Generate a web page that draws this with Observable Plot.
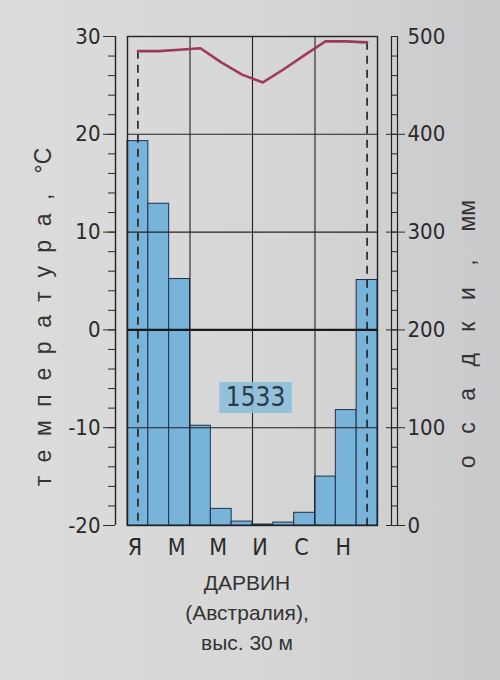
<!DOCTYPE html>
<html><head><meta charset="utf-8">
<script src="https://cdn.jsdelivr.net/npm/d3@7"></script>
<script src="https://cdn.jsdelivr.net/npm/@observablehq/plot@0.6"></script>
<style>
html,body{margin:0;padding:0;}
body{width:500px;height:680px;overflow:hidden;position:relative;
  background:linear-gradient(to right,#dcdcdc 0%,#d6d6d7 55%,#cacacc 100%);}
#chart{position:absolute;left:0;top:0;}
#caption{position:absolute;left:0;top:568px;width:494px;text-align:center;
  font-family:"Liberation Sans",Arial,sans-serif;font-size:21px;line-height:30px;color:#333;}
.ytitle{position:absolute;white-space:nowrap;font-family:"Liberation Sans",Arial,sans-serif;
  font-size:23px;color:#333;transform:translate(-50%,-50%) rotate(-90deg);line-height:1;}
</style></head><body>
<div id="chart"></div>
<div class="ytitle" id="tl" style="left:43px;top:317px;"><span style="letter-spacing:13.6px">температура,</span> °С</div>
<div class="ytitle" id="tr" style="left:467px;top:334px;"><span style="letter-spacing:21.5px">осадки,</span> мм</div>
<div id="caption"><div>ДАРВИН</div><div>(Австралия),</div><div>выс. 30 м</div></div>
<script>
// ---- data ----
const months = ["Я","Ф","М","А","М","И","И","А","С","О","Н","Д"];
const temperature = [28.5, 28.5, 28.65, 28.8, 27.35, 26.1, 25.3, 26.65, 28.1, 29.5, 29.5, 29.4];
const precipitation = [393, 329, 252, 102, 17, 4, 1, 3, 13, 50, 118, 251];
const annualTotal = [1533];
const tempTicks = [-20, -10, 0, 10, 20, 30];
const tempMinorTicks = d3.range(-20, 31, 2);
const precipTicks = [0, 100, 200, 300, 400, 500];
const labelledMonths = [0, 2, 4, 6, 8, 10];
const dashedMonths = [0, 11];
const seasonBreaks = [3, 6, 9];

// precipitation shares the temperature y scale: 10 °C ↔ 100 mm, -20 °C ↔ 0 mm
const mmToY = mm => mm / 10 - 20;
const yMin = tempTicks[0], yMax = tempTicks[tempTicks.length - 1];
const rows = months.map((m, i) => ({i, m, t: temperature[i], p: precipitation[i]}));

const F = '"Liberation Sans Narrow","DejaVu Sans Condensed","Liberation Sans",Arial,sans-serif';
const ink = "#222222";

const chart = Plot.plot({
  width: 500, height: 560,
  marginLeft: 127, marginRight: 123, marginTop: 36, marginBottom: 35,
  style: {background: "transparent", fontFamily: F, fontSize: "22px", color: "#2a2a2a", overflow: "visible"},
  x: {type: "linear", domain: [0, 12]},
  y: {domain: [yMin, yMax]},
  marks: [
    Plot.rectY(rows, {x1: "i", x2: d => d.i + 1, y1: mmToY(0), y2: d => mmToY(d.p),
      fill: "#78b3d9", stroke: "#1d3149", strokeWidth: 1}),
    Plot.ruleY(tempTicks.filter(t => t !== 0 && t !== yMin && t !== yMax), {stroke: ink, strokeWidth: 1.1}),
    Plot.ruleY([0], {stroke: "#1a1a1a", strokeWidth: 2.2}),
    Plot.ruleX(seasonBreaks, {stroke: ink, strokeWidth: 1.1}),
    Plot.ruleX(dashedMonths, {x: i => i + 0.5, y1: i => temperature[i], y2: yMin,
      stroke: "#1e1e1e", strokeWidth: 1.6, strokeDasharray: "8,6"}),
    Plot.line(rows, {x: d => d.i + 0.5, y: "t", stroke: "#9c3a5c", strokeWidth: 2.6, strokeLinejoin: "round"}),
    Plot.frame({stroke: ink, strokeWidth: 1.4}),
    // left temperature axis
    Plot.ruleX([0], {y1: yMin, y2: yMax, dx: -12, stroke: ink, strokeWidth: 1.4}),
    Plot.axisY(tempMinorTicks, {anchor: "left", label: null, tickSize: 7, dx: -12, tickFormat: () => ""}),
    Plot.axisY(tempTicks, {anchor: "left", label: null, tickSize: 12, dx: -12, tickPadding: 3, fontSize: 22,
      tickFormat: d => String(d)}),
    // right precipitation axis (ladder)
    Plot.ruleX([12], {y1: yMin, y2: yMax, dx: 14, stroke: ink, strokeWidth: 1.2}),
    Plot.ruleX([12], {y1: yMin, y2: yMax, dx: 20, stroke: ink, strokeWidth: 1.2}),
    Plot.axisY(tempMinorTicks, {anchor: "right", label: null, tickSize: 6, dx: 14, tickFormat: () => ""}),
    Plot.axisY(precipTicks.slice(0, 5).map(mmToY), {anchor: "right", label: null, tickSize: 19, dx: 8,
      tickFormat: () => ""}),
    Plot.axisY(precipTicks.map(mmToY), {anchor: "right", label: null, tickSize: 0, dx: 27, tickPadding: 3,
      fontSize: 22, tickFormat: y => String(Math.round((y + 20) * 10))}),
    // month labels
    Plot.axisX(labelledMonths.map(i => i + 0.5), {anchor: "bottom", label: null, tickSize: 0, tickPadding: 13,
      dx: -3, fontSize: 23, tickFormat: x => months[Math.floor(x)]}),
    // annual total
    Plot.text(annualTotal, {text: d => String(d), frameAnchor: "bottom", dx: 3, dy: -120,
      fontSize: 26, fill: "#2b3a4b"})
  ]
});
document.getElementById("chart").appendChild(chart);

// put a box behind the annual-total label
const svg = d3.select(chart.tagName.toLowerCase() === "svg" ? chart : chart.querySelector("svg"));
svg.selectAll("text").filter(function() { return this.textContent === String(annualTotal[0]); }).each(function() {
  const bb = this.getBBox();
  const r = document.createElementNS("http://www.w3.org/2000/svg", "rect");
  r.setAttribute("x", bb.x - 6.5);
  r.setAttribute("width", bb.width + 13);
  r.setAttribute("y", bb.y + bb.height / 2 - 14.5);
  r.setAttribute("height", 31);
  r.setAttribute("fill", "#8bbfd9");
  r.setAttribute("fill-opacity", 0.9);
  const tr = this.getAttribute("transform");
  if (tr) r.setAttribute("transform", tr);
  this.parentNode.insertBefore(r, this);
});
</script>
</body></html>
